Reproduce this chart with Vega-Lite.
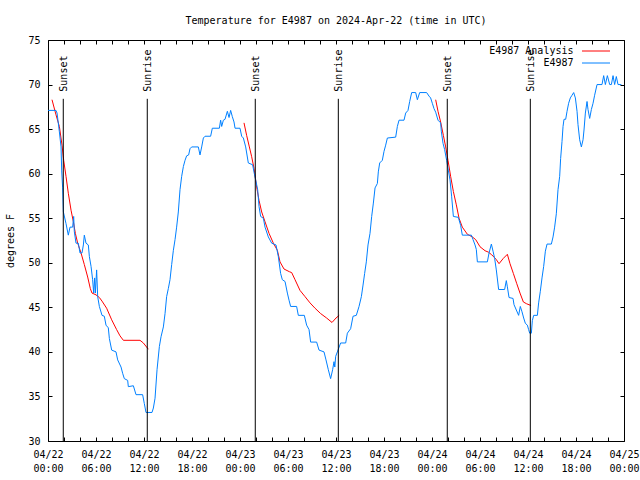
{
  "$schema": "https://vega.github.io/schema/vega-lite/v6.json",
  "width": 576,
  "height": 401,
  "autosize": {"type": "none"},
  "padding": {"left": 48, "top": 40, "right": 16, "bottom": 39},
  "background": "white",
  "title": {"text": "Temperature for E4987 on 2024-Apr-22 (time in UTC)", "font": "DejaVu Sans Mono", "fontSize": 10, "fontWeight": "normal", "color": "black", "offset": 9, "anchor": "middle"},
  "config": {
    "view": {"stroke": "black", "strokeWidth": 1},
    "font": "DejaVu Sans Mono",
    "axis": {"grid": false, "domain": false, "tickColor": "black", "tickWidth": 1, "labelColor": "black", "labelFont": "DejaVu Sans Mono", "labelFontSize": 10, "titleColor": "black", "titleFont": "DejaVu Sans Mono", "titleFontSize": 10, "titleFontWeight": "normal"}
  },
  "datasets": {
    "analysis": [
      {"seg":1,"h":0.5,"temp":68.3},{"seg":1,"h":1.0,"temp":66.6},{"seg":1,"h":1.42,"temp":65.3},{"seg":1,"h":1.75,"temp":63.2},{"seg":1,"h":1.96,"temp":61.5},{"seg":1,"h":2.25,"temp":59.7},{"seg":1,"h":2.54,"temp":57.8},{"seg":1,"h":2.88,"temp":55.9},{"seg":1,"h":3.17,"temp":54.6},{"seg":1,"h":3.42,"temp":53.3},{"seg":1,"h":3.71,"temp":52.2},{"seg":1,"h":4.13,"temp":51.1},{"seg":1,"h":4.54,"temp":49.8},{"seg":1,"h":4.96,"temp":48.4},{"seg":1,"h":5.29,"temp":47.1},{"seg":1,"h":5.5,"temp":46.6},{"seg":1,"h":6.0,"temp":46.4},{"seg":1,"h":6.42,"temp":46.1},{"seg":1,"h":6.75,"temp":45.7},{"seg":1,"h":7.33,"temp":44.9},{"seg":1,"h":7.96,"temp":43.6},{"seg":1,"h":8.58,"temp":42.5},{"seg":1,"h":9.0,"temp":41.8},{"seg":1,"h":9.42,"temp":41.3},{"seg":1,"h":11.5,"temp":41.3},{"seg":1,"h":11.92,"temp":41.0},{"seg":1,"h":12.54,"temp":40.3},
      {"seg":2,"h":24.5,"temp":65.7},{"seg":2,"h":24.83,"temp":64.3},{"seg":2,"h":25.17,"temp":63.0},{"seg":2,"h":25.46,"temp":61.9},{"seg":2,"h":25.75,"temp":60.6},{"seg":2,"h":26.08,"temp":58.5},{"seg":2,"h":26.38,"temp":57.0},{"seg":2,"h":26.71,"temp":55.7},{"seg":2,"h":27.13,"temp":54.6},{"seg":2,"h":27.63,"temp":53.3},{"seg":2,"h":28.17,"temp":52.2},{"seg":2,"h":28.67,"temp":51.4},{"seg":2,"h":29.0,"temp":50.1},{"seg":2,"h":29.5,"temp":49.3},{"seg":2,"h":30.17,"temp":49.0},{"seg":2,"h":30.46,"temp":48.9},{"seg":2,"h":30.88,"temp":48.1},{"seg":2,"h":31.5,"temp":46.9},{"seg":2,"h":32.13,"temp":46.2},{"seg":2,"h":32.75,"temp":45.5},{"seg":2,"h":33.38,"temp":44.9},{"seg":2,"h":34.08,"temp":44.3},{"seg":2,"h":34.83,"temp":43.8},{"seg":2,"h":35.5,"temp":43.3},{"seg":2,"h":36.0,"temp":43.8},{"seg":2,"h":36.4,"temp":44.1},
      {"seg":3,"h":48.46,"temp":68.3},{"seg":3,"h":48.75,"temp":67.0},{"seg":3,"h":49.08,"temp":65.8},{"seg":3,"h":49.42,"temp":64.3},{"seg":3,"h":49.71,"temp":63.0},{"seg":3,"h":50.0,"temp":61.5},{"seg":3,"h":50.33,"temp":59.7},{"seg":3,"h":50.67,"temp":58.0},{"seg":3,"h":51.04,"temp":56.5},{"seg":3,"h":51.38,"temp":55.0},{"seg":3,"h":51.79,"temp":54.0},{"seg":3,"h":52.42,"temp":53.2},{"seg":3,"h":53.04,"temp":52.9},{"seg":3,"h":53.46,"temp":52.6},{"seg":3,"h":54.0,"temp":51.8},{"seg":3,"h":54.63,"temp":51.35},{"seg":3,"h":55.04,"temp":51.2},{"seg":3,"h":55.46,"temp":50.9},{"seg":3,"h":56.0,"temp":50.4},{"seg":3,"h":56.38,"temp":49.9},{"seg":3,"h":56.92,"temp":50.5},{"seg":3,"h":57.42,"temp":50.95},{"seg":3,"h":57.75,"temp":49.9},{"seg":3,"h":58.17,"temp":48.8},{"seg":3,"h":58.58,"temp":47.7},{"seg":3,"h":59.0,"temp":46.6},{"seg":3,"h":59.42,"temp":45.6},{"seg":3,"h":59.83,"temp":45.4},{"seg":3,"h":60.38,"temp":45.2}
    ],
    "obs": [
      {"h":0.0,"temp":67.1},{"h":1.0,"temp":67.1},{"h":1.13,"temp":66.8},{"h":1.42,"temp":64.7},{"h":1.63,"temp":63.0},{"h":1.71,"temp":60.4},{"h":1.83,"temp":58.4},{"h":1.92,"temp":55.7},{"h":2.25,"temp":54.4},{"h":2.54,"temp":53.1},{"h":2.75,"temp":54.0},{"h":3.08,"temp":54.0},{"h":3.21,"temp":55.2},{"h":3.29,"temp":53.5},{"h":3.5,"temp":52.2},{"h":3.79,"temp":52.2},{"h":4.0,"temp":51.1},{"h":4.25,"temp":51.1},{"h":4.42,"temp":52.0},{"h":4.54,"temp":53.1},{"h":4.75,"temp":52.2},{"h":5.04,"temp":52.0},{"h":5.17,"temp":50.7},{"h":5.38,"temp":49.6},{"h":5.58,"temp":48.1},{"h":5.71,"temp":46.6},{"h":5.83,"temp":48.3},{"h":5.92,"temp":46.6},{"h":6.08,"temp":49.2},{"h":6.21,"temp":46.2},{"h":6.42,"temp":45.1},{"h":6.75,"temp":44.1},{"h":7.04,"temp":44.0},{"h":7.25,"temp":43.0},{"h":7.54,"temp":42.7},{"h":7.67,"temp":41.5},{"h":7.96,"temp":40.2},{"h":8.5,"temp":40.0},{"h":8.71,"temp":39.1},{"h":9.13,"temp":38.3},{"h":9.33,"temp":37.6},{"h":9.54,"temp":37.0},{"h":9.96,"temp":36.8},{"h":10.04,"temp":36.1},{"h":10.67,"temp":36.2},{"h":11.0,"temp":35.2},{"h":11.83,"temp":35.2},{"h":12.04,"temp":34.2},{"h":12.25,"temp":33.2},{"h":13.0,"temp":33.2},{"h":13.17,"temp":33.7},{"h":13.38,"temp":34.8},{"h":13.63,"temp":38.0},{"h":13.92,"temp":40.6},{"h":14.13,"temp":41.7},{"h":14.42,"temp":42.8},{"h":14.63,"temp":44.3},{"h":14.83,"temp":46.2},{"h":15.04,"temp":47.1},{"h":15.25,"temp":48.1},{"h":15.46,"temp":49.8},{"h":15.67,"temp":51.4},{"h":15.88,"temp":52.6},{"h":16.08,"temp":54.0},{"h":16.29,"temp":55.7},{"h":16.5,"temp":58.2},{"h":16.71,"temp":59.7},{"h":16.92,"temp":60.8},{"h":17.13,"temp":61.5},{"h":17.33,"temp":62.0},{"h":17.58,"temp":62.1},{"h":17.75,"temp":62.8},{"h":17.96,"temp":63.0},
      {"h":18.79,"temp":63.0},{"h":19.0,"temp":62.1},{"h":19.21,"temp":63.0},{"h":19.42,"temp":64.0},{"h":19.63,"temp":64.2},{"h":20.33,"temp":64.2},{"h":20.54,"temp":65.1},{"h":21.42,"temp":65.1},{"h":21.58,"temp":66.0},{"h":21.71,"temp":65.3},{"h":21.92,"temp":66.0},{"h":22.13,"temp":66.1},{"h":22.42,"temp":67.0},{"h":22.63,"temp":66.3},{"h":22.83,"temp":67.1},{"h":23.04,"temp":66.4},{"h":23.25,"temp":65.8},{"h":23.38,"temp":65.1},{"h":24.0,"temp":65.1},{"h":24.21,"temp":64.2},{"h":24.42,"temp":64.0},{"h":24.71,"temp":63.0},{"h":25.04,"temp":61.2},{"h":25.58,"temp":61.0},{"h":25.79,"temp":60.0},{"h":25.96,"temp":59.3},{"h":26.21,"temp":58.2},{"h":26.38,"temp":56.3},{"h":26.58,"temp":55.2},{"h":26.92,"temp":55.0},{"h":27.13,"temp":54.0},{"h":27.54,"temp":52.9},{"h":27.96,"temp":52.2},{"h":28.5,"temp":52.0},{"h":28.79,"temp":50.7},{"h":29.08,"temp":48.8},{"h":29.29,"temp":48.1},{"h":29.63,"temp":47.9},{"h":29.92,"temp":46.6},{"h":30.13,"temp":45.8},{"h":30.33,"temp":45.1},{"h":31.08,"temp":45.1},{"h":31.29,"temp":44.1},{"h":32.04,"temp":44.1},{"h":32.33,"temp":43.0},{"h":32.63,"temp":42.5},{"h":32.83,"temp":41.1},{"h":33.58,"temp":41.1},{"h":33.88,"temp":40.2},{"h":34.5,"temp":40.0},{"h":34.75,"temp":39.1},{"h":35.04,"temp":38.0},{"h":35.33,"temp":37.0},{"h":35.58,"temp":38.0},{"h":35.75,"temp":38.9},{"h":35.85,"temp":38.3},{"h":35.96,"temp":39.5},
      {"h":36.17,"temp":40.0},{"h":36.58,"temp":41.0},{"h":37.21,"temp":41.0},{"h":37.42,"temp":42.1},{"h":37.83,"temp":42.6},{"h":38.13,"temp":44.0},{"h":38.54,"temp":44.1},{"h":38.88,"temp":45.1},{"h":39.17,"temp":46.2},{"h":39.38,"temp":47.5},{"h":39.58,"temp":48.8},{"h":39.79,"temp":50.1},{"h":40.0,"temp":52.0},{"h":40.25,"temp":53.3},{"h":40.46,"temp":55.2},{"h":40.67,"temp":56.7},{"h":40.88,"temp":58.4},{"h":41.17,"temp":58.9},{"h":41.29,"temp":60.2},{"h":41.46,"temp":61.2},{"h":41.79,"temp":61.5},{"h":42.0,"temp":62.5},{"h":42.21,"temp":63.2},{"h":42.42,"temp":64.0},{"h":43.46,"temp":64.1},{"h":43.67,"temp":65.3},{"h":43.88,"temp":66.0},{"h":44.5,"temp":66.0},{"h":44.71,"temp":66.8},{"h":45.0,"temp":67.1},{"h":45.21,"temp":68.1},{"h":45.46,"temp":69.1},{"h":45.96,"temp":69.1},{"h":46.17,"temp":68.3},{"h":46.46,"temp":69.1},{"h":47.33,"temp":69.1},{"h":47.63,"temp":68.7},{"h":47.83,"temp":68.5},{"h":48.04,"temp":67.9},{"h":48.25,"temp":67.3},{"h":48.46,"temp":66.9},{"h":48.75,"temp":66.0},{"h":49.08,"temp":65.7},{"h":49.17,"temp":64.7},{"h":49.38,"temp":63.4},{"h":49.58,"temp":62.7},{"h":49.83,"temp":61.5},{"h":50.04,"temp":60.4},{"h":50.25,"temp":59.3},{"h":50.46,"temp":57.4},{"h":50.67,"temp":55.2},{"h":51.29,"temp":55.1},{"h":51.58,"temp":54.2},{"h":51.79,"temp":53.1},{"h":52.92,"temp":53.1},{"h":53.13,"temp":52.6},{"h":53.38,"temp":52.0},{"h":53.54,"temp":51.5},{"h":53.67,"temp":50.1},
      {"h":54.92,"temp":50.1},{"h":55.13,"temp":51.1},{"h":55.42,"temp":52.1},{"h":55.63,"temp":51.3},{"h":55.83,"temp":50.5},{"h":56.04,"temp":49.2},{"h":56.33,"temp":47.0},{"h":57.08,"temp":47.0},{"h":57.29,"temp":48.0},{"h":57.42,"temp":47.3},{"h":57.63,"temp":46.1},{"h":58.13,"temp":46.0},{"h":58.25,"temp":45.3},{"h":58.54,"temp":44.7},{"h":58.83,"temp":44.1},{"h":59.04,"temp":45.1},{"h":59.25,"temp":44.5},{"h":59.46,"temp":43.8},{"h":59.67,"temp":43.2},{"h":59.92,"temp":43.0},{"h":60.08,"temp":42.5},{"h":60.21,"temp":42.1},{"h":60.42,"temp":42.1},{"h":60.54,"temp":43.5},{"h":60.71,"temp":44.1},{"h":61.17,"temp":44.1},{"h":61.33,"temp":45.5},{"h":61.54,"temp":46.8},{"h":61.75,"temp":48.3},{"h":61.96,"temp":49.6},{"h":62.17,"temp":51.3},{"h":62.38,"temp":52.1},{"h":62.92,"temp":52.1},{"h":63.13,"temp":52.9},{"h":63.33,"temp":54.0},{"h":63.54,"temp":55.5},{"h":63.75,"temp":58.2},{"h":63.96,"temp":59.7},{"h":64.08,"temp":61.7},{"h":64.25,"temp":63.6},{"h":64.38,"temp":65.3},{"h":64.5,"temp":66.1},{"h":64.71,"temp":66.1},{"h":64.88,"temp":67.0},{"h":65.08,"temp":67.9},{"h":65.29,"temp":68.5},{"h":65.5,"temp":68.8},{"h":65.71,"temp":69.1},{"h":65.92,"temp":68.5},{"h":66.13,"temp":67.0},{"h":66.25,"temp":65.5},{"h":66.46,"temp":63.8},{"h":66.67,"temp":63.0},{"h":66.88,"temp":63.8},{"h":67.0,"temp":64.9},{"h":67.17,"temp":66.8},{"h":67.38,"temp":68.1},{"h":67.5,"temp":67.2},{"h":67.71,"temp":66.2},{"h":67.92,"temp":67.2},{"h":68.13,"temp":67.9},{"h":68.33,"temp":68.8},{"h":68.63,"temp":70.0},{"h":69.25,"temp":70.0},{"h":69.46,"temp":71.0},{"h":69.67,"temp":70.0},{"h":69.92,"temp":71.0},{"h":70.21,"temp":70.0},{"h":70.42,"temp":70.0},{"h":70.63,"temp":71.0},{"h":70.83,"temp":70.0},{"h":71.04,"temp":70.9},{"h":71.25,"temp":70.0},{"h":71.67,"temp":70.0}
    ],
    "sun": [
      {"h":1.91,"event":"Sunset"},{"h":12.41,"event":"Sunrise"},{"h":25.91,"event":"Sunset"},{"h":36.29,"event":"Sunrise"},{"h":49.91,"event":"Sunset"},{"h":60.29,"event":"Sunrise"}
    ]
  },
  "layer": [
    {
      "data": {"name": "analysis"},
      "mark": {"type": "line", "strokeWidth": 1, "interpolate": "linear"},
      "encoding": {
        "x": {"field": "h", "type": "quantitative", "scale": {"domain": [0, 72], "nice": false, "zero": false},
              "axis": {"orient": "bottom", "title": null, "values": [0,2,4,6,8,10,12,14,16,18,20,22,24,26,28,30,32,34,36,38,40,42,44,46,48,50,52,54,56,58,60,62,64,66,68,70,72],
                       "labelExpr": "datum.value % 6 == 0 ? ['04/' + (22 + floor(datum.value / 24)), (datum.value % 24 < 10 ? '0' : '') + (datum.value % 24) + ':00'] : ''",
                       "tickSize": -4, "labelPadding": 12, "labelFlush": false, "labelOverlap": false, "labelLineHeight": 14, "labelBaseline": "top"}},
        "y": {"field": "temp", "type": "quantitative", "scale": {"domain": [30, 75], "nice": false, "zero": false},
              "axis": {"orient": "left", "title": "degrees F", "values": [30,35,40,45,50,55,60,65,70,75], "tickSize": -4, "labelPadding": 12, "labelFlush": false, "titlePadding": 12}},
        "detail": {"field": "seg", "type": "nominal"},
        "color": {"datum": "E4987 Analysis", "type": "nominal",
                  "scale": {"domain": ["E4987 Analysis", "E4987"], "range": ["#ff0000", "#0080ff"]},
                  "legend": {"orient": "none", "legendX": 534, "legendY": 4.5, "title": null, "symbolType": "M-2.3333,0H2.3333", "symbolSize": 144, "symbolStrokeWidth": 1, "symbolOffset": 7.5,
                             "labelAlign": "right", "labelOffset": -29, "labelFont": "DejaVu Sans Mono", "labelFontSize": 10, "labelColor": "black", "rowPadding": 0, "padding": 0, "direction": "vertical"}}
      }
    },
    {
      "data": {"name": "obs"},
      "mark": {"type": "line", "strokeWidth": 1, "interpolate": "linear"},
      "encoding": {
        "x": {"field": "h", "type": "quantitative",
              "axis": {"orient": "top", "title": null, "labels": false, "values": [0,2,4,6,8,10,12,14,16,18,20,22,24,26,28,30,32,34,36,38,40,42,44,46,48,50,52,54,56,58,60,62,64,66,68,70,72], "tickSize": -4}},
        "y": {"field": "temp", "type": "quantitative",
              "axis": {"orient": "right", "title": null, "labels": false, "values": [30,35,40,45,50,55,60,65,70,75], "tickSize": -4}},
        "color": {"datum": "E4987", "type": "nominal"}
      }
    },
    {
      "data": {"name": "sun"},
      "mark": {"type": "rule", "color": "black", "strokeWidth": 1},
      "encoding": {
        "x": {"field": "h", "type": "quantitative", "axis": null},
        "y": {"datum": 68.4, "type": "quantitative", "axis": null},
        "y2": {"datum": 30}
      }
    },
    {
      "data": {"name": "sun"},
      "mark": {"type": "text", "angle": 270, "align": "left", "baseline": "middle", "dy": 1, "font": "DejaVu Sans Mono", "fontSize": 10, "color": "black"},
      "encoding": {
        "x": {"field": "h", "type": "quantitative", "axis": null},
        "y": {"datum": 69.2, "type": "quantitative", "axis": null},
        "text": {"field": "event", "type": "nominal"}
      }
    }
  ],
  "resolve": {"axis": {"x": "independent", "y": "independent"}}
}
